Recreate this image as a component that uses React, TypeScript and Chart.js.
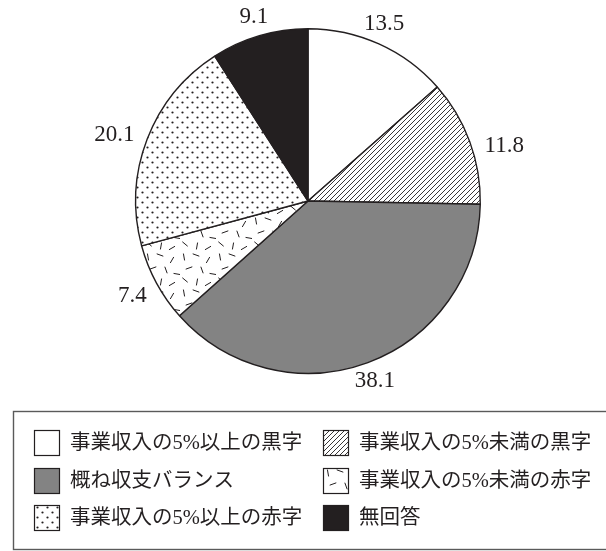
import React, { useEffect, useRef } from "react";
import { Chart, registerables } from "chart.js";

Chart.register(...registerables);

const categories = [
  "事業収入の5%以上の黒字",
  "事業収入の5%未満の黒字",
  "概ね収支バランス",
  "事業収入の5%未満の赤字",
  "事業収入の5%以上の赤字",
  "無回答",
];
const values = [13.5, 11.8, 38.1, 7.4, 20.1, 9.1];
const valueLabels = ["13.5", "11.8", "38.1", "7.4", "20.1", "9.1"];
const fillKinds = ["white", "hatch", "gray", "dashes", "dots", "black"];

// small angular nudges (degrees) for the outer value labels, as in the source layout
const labelNudgeDeg = [-1, 4.5, 0, 0, -2.3, 0];

const INK = "#231f20";
const GRAY = "#838383";

// short dash strokes inside the texture tile: x, y, angle(deg), length
const dashTile = [
  [4, 5, 80, 7],
  [16, 3, 20, 7],
  [28, 8, -60, 7],
  [9, 16, -20, 7],
  [22, 18, 70, 7],
  [33, 22, 10, 7],
  [5, 28, 40, 7],
  [17, 30, -80, 7],
  [28, 32, -30, 7],
];

function makeFill(kind: string): string | CanvasPattern {
  if (kind === "white") return "#ffffff";
  if (kind === "gray") return GRAY;
  if (kind === "black") return INK;
  const c = document.createElement("canvas");
  const ctx = c.getContext("2d")!;
  if (kind === "hatch") {
    c.width = 5;
    c.height = 5;
    ctx.fillStyle = "#fff";
    ctx.fillRect(0, 0, 5, 5);
    ctx.strokeStyle = INK;
    ctx.lineWidth = 0.9;
    ctx.beginPath();
    ctx.moveTo(-1, 6);
    ctx.lineTo(6, -1);
    ctx.moveTo(-1, 1);
    ctx.lineTo(1, -1);
    ctx.moveTo(4, 6);
    ctx.lineTo(6, 4);
    ctx.stroke();
  } else if (kind === "dots") {
    c.width = 10;
    c.height = 10;
    ctx.fillStyle = "#fff";
    ctx.fillRect(0, 0, 10, 10);
    ctx.fillStyle = INK;
    for (const [x, y] of [
      [2.5, 2.5],
      [7.5, 7.5],
    ]) {
      ctx.beginPath();
      ctx.arc(x, y, 1.1, 0, Math.PI * 2);
      ctx.fill();
    }
  } else if (kind === "dashes") {
    c.width = 36;
    c.height = 36;
    ctx.fillStyle = "#fff";
    ctx.fillRect(0, 0, 36, 36);
    ctx.strokeStyle = INK;
    ctx.lineWidth = 1;
    for (const [x, y, a, l] of dashTile) {
      const r = (a * Math.PI) / 180;
      const dx = (Math.cos(r) * l) / 2;
      const dy = (Math.sin(r) * l) / 2;
      ctx.beginPath();
      ctx.moveTo(x - dx, y - dy);
      ctx.lineTo(x + dx, y + dy);
      ctx.stroke();
    }
  }
  return ctx.createPattern(c, "repeat")!;
}

const LABEL_FONT = '23px "Liberation Serif", "Noto Sans CJK JP", serif';
const LEGEND_FONT = '20.5px "Liberation Serif", "Noto Sans CJK JP", serif';

export default function App() {
  const ref = useRef<HTMLCanvasElement>(null);

  useEffect(() => {
    const canvas = ref.current!;
    const fills = fillKinds.map(makeFill);

    const labelPlugin = {
      id: "outerLabels",
      afterDatasetsDraw(chart: any) {
        const ctx = chart.ctx;
        const meta = chart.getDatasetMeta(0);
        ctx.save();
        ctx.font = LABEL_FONT;
        ctx.fillStyle = INK;
        ctx.textAlign = "center";
        ctx.textBaseline = "middle";
        const gap = 11;
        const hh = 8.5;
        meta.data.forEach((arc: any, i: number) => {
          const p = arc.getProps(["x", "y", "startAngle", "endAngle", "outerRadius"], true);
          const mid = (p.startAngle + p.endAngle) / 2 + (labelNudgeDeg[i] * Math.PI) / 180;
          const cx = Math.cos(mid);
          const cy = Math.sin(mid);
          const hw = ctx.measureText(valueLabels[i]).width / 2;
          const t = Math.min(
            Math.abs(cx) > 1e-6 ? hw / Math.abs(cx) : Infinity,
            Math.abs(cy) > 1e-6 ? hh / Math.abs(cy) : Infinity
          );
          const d = p.outerRadius + gap + t;
          ctx.fillText(valueLabels[i], p.x + cx * d, p.y + cy * d);
        });
        ctx.restore();
      },
    };

    const legendPlugin = {
      id: "boxLegend",
      afterDraw(chart: any) {
        const ctx = chart.ctx;
        ctx.save();
        ctx.strokeStyle = "#5a5a5a";
        ctx.lineWidth = 1.4;
        ctx.strokeRect(13.5, 411.5, 600, 138);
        const colSwatch = [34, 323];
        const colText = [70, 359];
        const rowY = [443, 481, 518];
        const sw = 26;
        ctx.font = LEGEND_FONT;
        ctx.textBaseline = "middle";
        ctx.textAlign = "left";
        categories.forEach((name, i) => {
          const col = i % 2;
          const row = Math.floor(i / 2);
          const x = colSwatch[col];
          const y = rowY[row] - sw / 2;
          ctx.fillStyle = fills[i];
          ctx.fillRect(x, y, sw, sw);
          ctx.strokeStyle = INK;
          ctx.lineWidth = 1.2;
          ctx.strokeRect(x + 0.5, y + 0.5, sw - 1, sw - 1);
          ctx.fillStyle = INK;
          ctx.fillText(name, colText[col], rowY[row] + 1);
        });
        ctx.restore();
      },
    };

    const chart = new Chart(canvas, {
      type: "pie",
      data: {
        labels: categories,
        datasets: [
          {
            data: values,
            backgroundColor: fills as any,
            borderColor: INK,
            borderWidth: 1.4,
          },
        ],
      },
      options: {
        responsive: false,
        maintainAspectRatio: false,
        animation: false,
        layout: { padding: { left: 135, right: 125, top: 28, bottom: 177 } },
        plugins: {
          legend: { display: false },
          tooltip: { enabled: false },
        },
      },
      plugins: [labelPlugin, legendPlugin],
    });
    return () => chart.destroy();
  }, []);

  return (
    <div style={{ position: "fixed", left: 0, top: 0, width: 606, height: 551, background: "#fff" }}>
      <canvas ref={ref} width={606} height={551} style={{ display: "block" }} />
    </div>
  );
}
